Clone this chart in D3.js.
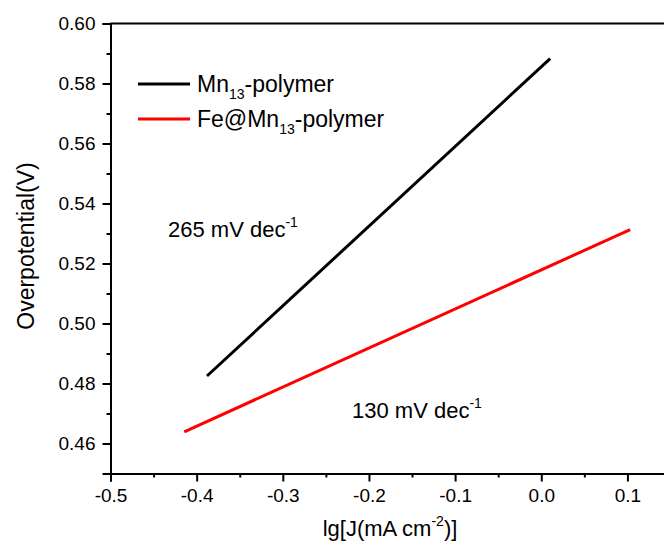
<!DOCTYPE html>
<html>
<head>
<meta charset="utf-8">
<script src="https://cdn.jsdelivr.net/npm/d3@7"></script>
<style>
  html, body { margin: 0; padding: 0; background: #fff; }
  svg { display: block; font-family: "Liberation Sans", Arial, sans-serif; }
</style>
</head>
<body>
<svg id="chart" width="664" height="550"></svg>
<script>
// ---- data ----
const seriesNames = ["Mn13-polymer", "Fe@Mn13-polymer"];
const mnX = [-0.388, 0.0103];
const mnY = [0.4825, 0.5883];
const feX = [-0.4144, 0.1032];
const feY = [0.4639, 0.5313];
const xTicks = [-0.5, -0.4, -0.3, -0.2, -0.1, 0.0, 0.1];
const xMinorTicks = [-0.45, -0.35, -0.25, -0.15, -0.05, 0.05, 0.15];
const yTicks = [0.46, 0.48, 0.50, 0.52, 0.54, 0.56, 0.58, 0.60];
const yMinorTicks = [0.45, 0.47, 0.49, 0.51, 0.53, 0.55, 0.57, 0.59];
const slopeLabels = ["265 mV dec", "130 mV dec"];

// ---- layout ----
const svg = d3.select("#chart");
const mLeft = 110.5, mRight = 670.5, mTop = 23.5, mBottom = 473.5;
const x = d3.scaleLinear().domain([-0.5, 0.15]).range([mLeft, mRight]);
const y = d3.scaleLinear().domain([0.45, 0.60]).range([mBottom, mTop]);

// frame top line
svg.append("line")
  .attr("x1", mLeft).attr("x2", mRight).attr("y1", mTop).attr("y2", mTop)
  .attr("stroke", "#000").attr("stroke-width", 2);

// x axis
const fmtX = d => d.toFixed(1);
const gx = svg.append("g").attr("transform", `translate(0,${mBottom})`);
gx.call(d3.axisBottom(x).tickValues(xTicks).tickSize(8).tickPadding(7)
  .tickFormat(fmtX));
gx.append("g").call(d3.axisBottom(x).tickValues(xMinorTicks).tickSize(4).tickFormat(""))
  .select(".domain").remove();

// y axis
const gy = svg.append("g").attr("transform", `translate(${mLeft},0)`);
gy.call(d3.axisLeft(y).tickValues(yTicks).tickSize(8).tickPadding(7)
  .tickFormat(d => d.toFixed(2)));
gy.append("g").call(d3.axisLeft(y).tickValues(yMinorTicks).tickSize(4).tickFormat(""))
  .select(".domain").remove();

svg.selectAll(".domain").attr("stroke", "#000").attr("stroke-width", 2);
svg.selectAll(".tick line").attr("stroke", "#000").attr("stroke-width", 2);
svg.selectAll(".tick text").attr("font-size", 19).attr("fill", "#000")
  .attr("font-family", "Liberation Sans, Arial, sans-serif");

// data lines
const line = d3.line().x(d => x(d[0])).y(d => y(d[1]));
svg.append("path").datum(mnX.map((v, i) => [v, mnY[i]]))
  .attr("d", line).attr("fill", "none").attr("stroke", "#000").attr("stroke-width", 3);
svg.append("path").datum(feX.map((v, i) => [v, feY[i]]))
  .attr("d", line).attr("fill", "none").attr("stroke", "#ff0000").attr("stroke-width", 3);

// legend
const legColors = ["#000", "#ff0000"];
const legend = svg.append("g");
[84, 119].forEach((ly, i) => {
  legend.append("line").attr("x1", 138).attr("x2", 190).attr("y1", ly).attr("y2", ly)
    .attr("stroke", legColors[i]).attr("stroke-width", 3);
  const t = legend.append("text").attr("x", 197).attr("y", ly + 8)
    .attr("font-size", 23).attr("fill", "#000");
  const name = seriesNames[i];
  const parts = name.split("13");
  t.append("tspan").text(parts[0]);
  t.append("tspan").attr("font-size", 14).attr("dy", 7).text("13");
  t.append("tspan").attr("dy", -7).text(parts[1]);
});

// slope annotations
[[168, 237], [352, 418]].forEach((p, i) => {
  const t = svg.append("text").attr("x", p[0]).attr("y", p[1])
    .attr("font-size", 22).attr("fill", "#000");
  t.append("tspan").text(slopeLabels[i]);
  t.append("tspan").attr("font-size", 14).attr("dy", -10).text("-1");
});

// axis titles
const xt = svg.append("text").attr("x", 390).attr("y", 536)
  .attr("text-anchor", "middle").attr("font-size", 22).attr("fill", "#000");
xt.append("tspan").text("lg[J(mA cm");
xt.append("tspan").attr("font-size", 14).attr("dy", -10).text("-2");
xt.append("tspan").attr("dy", 10).text(")]");

svg.append("text")
  .attr("transform", `translate(34,246) rotate(-90)`)
  .attr("text-anchor", "middle").attr("font-size", 23).attr("fill", "#000")
  .text("Overpotential(V)");
</script>
</body>
</html>
